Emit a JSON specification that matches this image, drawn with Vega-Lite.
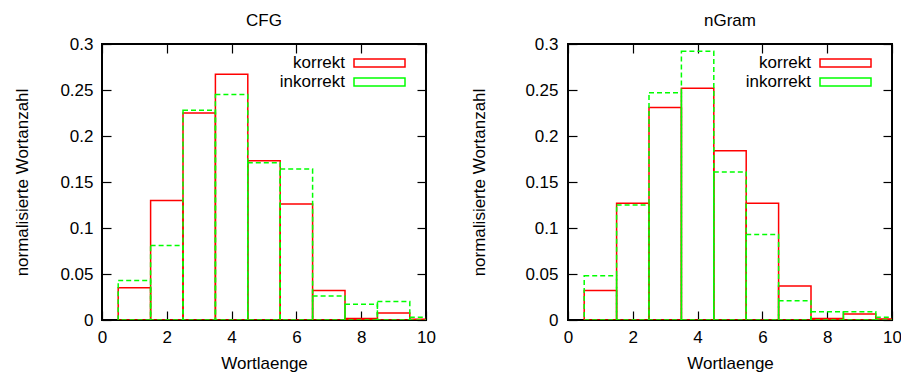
{
  "$schema": "https://vega.github.io/schema/vega-lite/v6.json",
  "padding": {"left": 12, "top": 11, "right": 5, "bottom": 5},
  "datasets": {
    "histo": [
      {"modell": "CFG", "serie": "korrekt", "von": 0.5, "bis": 1.5, "anteil": 0.035},
      {"modell": "CFG", "serie": "korrekt", "von": 1.5, "bis": 2.5, "anteil": 0.130},
      {"modell": "CFG", "serie": "korrekt", "von": 2.5, "bis": 3.5, "anteil": 0.225},
      {"modell": "CFG", "serie": "korrekt", "von": 3.5, "bis": 4.5, "anteil": 0.267},
      {"modell": "CFG", "serie": "korrekt", "von": 4.5, "bis": 5.5, "anteil": 0.173},
      {"modell": "CFG", "serie": "korrekt", "von": 5.5, "bis": 6.5, "anteil": 0.126},
      {"modell": "CFG", "serie": "korrekt", "von": 6.5, "bis": 7.5, "anteil": 0.032},
      {"modell": "CFG", "serie": "korrekt", "von": 7.5, "bis": 8.5, "anteil": 0.0015},
      {"modell": "CFG", "serie": "korrekt", "von": 8.5, "bis": 9.5, "anteil": 0.0075},
      {"modell": "CFG", "serie": "korrekt", "von": 9.5, "bis": 10.5, "anteil": 0.0008},
      {"modell": "CFG", "serie": "inkorrekt", "von": 0.5, "bis": 1.5, "anteil": 0.043},
      {"modell": "CFG", "serie": "inkorrekt", "von": 1.5, "bis": 2.5, "anteil": 0.081},
      {"modell": "CFG", "serie": "inkorrekt", "von": 2.5, "bis": 3.5, "anteil": 0.228},
      {"modell": "CFG", "serie": "inkorrekt", "von": 3.5, "bis": 4.5, "anteil": 0.245},
      {"modell": "CFG", "serie": "inkorrekt", "von": 4.5, "bis": 5.5, "anteil": 0.171},
      {"modell": "CFG", "serie": "inkorrekt", "von": 5.5, "bis": 6.5, "anteil": 0.164},
      {"modell": "CFG", "serie": "inkorrekt", "von": 6.5, "bis": 7.5, "anteil": 0.026},
      {"modell": "CFG", "serie": "inkorrekt", "von": 7.5, "bis": 8.5, "anteil": 0.017},
      {"modell": "CFG", "serie": "inkorrekt", "von": 8.5, "bis": 9.5, "anteil": 0.020},
      {"modell": "CFG", "serie": "inkorrekt", "von": 9.5, "bis": 10.5, "anteil": 0.003},
      {"modell": "nGram", "serie": "korrekt", "von": 0.5, "bis": 1.5, "anteil": 0.032},
      {"modell": "nGram", "serie": "korrekt", "von": 1.5, "bis": 2.5, "anteil": 0.127},
      {"modell": "nGram", "serie": "korrekt", "von": 2.5, "bis": 3.5, "anteil": 0.231},
      {"modell": "nGram", "serie": "korrekt", "von": 3.5, "bis": 4.5, "anteil": 0.252},
      {"modell": "nGram", "serie": "korrekt", "von": 4.5, "bis": 5.5, "anteil": 0.184},
      {"modell": "nGram", "serie": "korrekt", "von": 5.5, "bis": 6.5, "anteil": 0.127},
      {"modell": "nGram", "serie": "korrekt", "von": 6.5, "bis": 7.5, "anteil": 0.037},
      {"modell": "nGram", "serie": "korrekt", "von": 7.5, "bis": 8.5, "anteil": 0.0015},
      {"modell": "nGram", "serie": "korrekt", "von": 8.5, "bis": 9.5, "anteil": 0.0065},
      {"modell": "nGram", "serie": "korrekt", "von": 9.5, "bis": 10.5, "anteil": 0.001},
      {"modell": "nGram", "serie": "inkorrekt", "von": 0.5, "bis": 1.5, "anteil": 0.048},
      {"modell": "nGram", "serie": "inkorrekt", "von": 1.5, "bis": 2.5, "anteil": 0.125},
      {"modell": "nGram", "serie": "inkorrekt", "von": 2.5, "bis": 3.5, "anteil": 0.247},
      {"modell": "nGram", "serie": "inkorrekt", "von": 3.5, "bis": 4.5, "anteil": 0.292},
      {"modell": "nGram", "serie": "inkorrekt", "von": 4.5, "bis": 5.5, "anteil": 0.161},
      {"modell": "nGram", "serie": "inkorrekt", "von": 5.5, "bis": 6.5, "anteil": 0.093},
      {"modell": "nGram", "serie": "inkorrekt", "von": 6.5, "bis": 7.5, "anteil": 0.021},
      {"modell": "nGram", "serie": "inkorrekt", "von": 7.5, "bis": 8.5, "anteil": 0.009},
      {"modell": "nGram", "serie": "inkorrekt", "von": 8.5, "bis": 9.5, "anteil": 0.009},
      {"modell": "nGram", "serie": "inkorrekt", "von": 9.5, "bis": 10.5, "anteil": 0.003}
    ]
  },
  "data": {"name": "histo"},
  "spacing": 25,
  "hconcat": [
    {
      "title": "CFG",
      "width": 324,
      "height": 276,
      "transform": [{"filter": "datum.modell === 'CFG'"}],
      "layer": [
        {
          "transform": [{"filter": "datum.serie === 'korrekt'"}],
          "mark": {"type": "rect", "fill": null, "fillOpacity": 0, "strokeWidth": 1.5, "clip": true},
          "encoding": {
            "x": {"field": "von", "type": "quantitative", "title": "Wortlaenge", "scale": {"domain": [0, 10], "nice": false}, "axis": {"orient": "bottom", "values": [0, 2, 4, 6, 8, 10], "labelPadding": 18, "titlePadding": 10}},
            "x2": {"field": "bis"},
            "y": {"field": "anteil", "type": "quantitative", "title": "normalisierte Wortanzahl", "scale": {"domain": [0, 0.3], "nice": false}, "axis": {"orient": "left", "values": [0, 0.05, 0.1, 0.15, 0.2, 0.25, 0.3], "format": "~g", "labelPadding": 18, "titlePadding": 28}},
            "y2": {"datum": 0},
            "stroke": {"field": "serie", "type": "nominal", "scale": {"domain": ["korrekt", "inkorrekt"], "range": ["#ff0000", "#00ff00"]}, "legend": {"title": null, "orient": "none", "legendX": 171, "legendY": 10.5, "encode": {"symbols": {"update": {"stroke": {"signal": "datum.value === 'inkorrekt' ? '#00ff00' : '#ff0000'"}, "fill": {"value": "transparent"}, "strokeDash": {"signal": "datum.value === 'inkorrekt' ? [5, 3] : [1, 0]"}}}}}}
          }
        },
        {
          "transform": [{"filter": "datum.serie === 'inkorrekt'"}],
          "mark": {"type": "rect", "fill": null, "fillOpacity": 0, "strokeWidth": 1.5, "strokeDash": [5, 3], "clip": true},
          "encoding": {
            "x": {"field": "von", "type": "quantitative", "axis": null},
            "x2": {"field": "bis"},
            "y": {"field": "anteil", "type": "quantitative", "axis": null},
            "y2": {"datum": 0},
            "stroke": {"field": "serie", "type": "nominal"}
          }
        },
        {
          "mark": {"type": "rect", "opacity": 0},
          "encoding": {
            "x": {"field": "von", "type": "quantitative", "axis": {"orient": "top", "values": [0, 2, 4, 6, 8, 10], "labels": false, "title": null}},
            "x2": {"field": "bis"},
            "y": {"field": "anteil", "type": "quantitative", "axis": {"orient": "right", "values": [0, 0.05, 0.1, 0.15, 0.2, 0.25, 0.3], "labels": false, "title": null}},
            "y2": {"datum": 0}
          }
        }
      ],
      "resolve": {"axis": {"x": "independent", "y": "independent"}}
    },
    {
      "title": "nGram",
      "width": 324,
      "height": 276,
      "transform": [{"filter": "datum.modell === 'nGram'"}],
      "layer": [
        {
          "transform": [{"filter": "datum.serie === 'korrekt'"}],
          "mark": {"type": "rect", "fill": null, "fillOpacity": 0, "strokeWidth": 1.5, "clip": true},
          "encoding": {
            "x": {"field": "von", "type": "quantitative", "title": "Wortlaenge", "scale": {"domain": [0, 10], "nice": false}, "axis": {"orient": "bottom", "values": [0, 2, 4, 6, 8, 10], "labelPadding": 18, "titlePadding": 10}},
            "x2": {"field": "bis"},
            "y": {"field": "anteil", "type": "quantitative", "title": "normalisierte Wortanzahl", "scale": {"domain": [0, 0.3], "nice": false}, "axis": {"orient": "left", "values": [0, 0.05, 0.1, 0.15, 0.2, 0.25, 0.3], "format": "~g", "labelPadding": 19, "titlePadding": 36}},
            "y2": {"datum": 0},
            "stroke": {"field": "serie", "type": "nominal", "scale": {"domain": ["korrekt", "inkorrekt"], "range": ["#ff0000", "#00ff00"]}, "legend": {"title": null, "orient": "none", "legendX": 171, "legendY": 10.5, "encode": {"symbols": {"update": {"stroke": {"signal": "datum.value === 'inkorrekt' ? '#00ff00' : '#ff0000'"}, "fill": {"value": "transparent"}, "strokeDash": {"signal": "datum.value === 'inkorrekt' ? [5, 3] : [1, 0]"}}}}}}
          }
        },
        {
          "transform": [{"filter": "datum.serie === 'inkorrekt'"}],
          "mark": {"type": "rect", "fill": null, "fillOpacity": 0, "strokeWidth": 1.5, "strokeDash": [5, 3], "clip": true},
          "encoding": {
            "x": {"field": "von", "type": "quantitative", "axis": null},
            "x2": {"field": "bis"},
            "y": {"field": "anteil", "type": "quantitative", "axis": null},
            "y2": {"datum": 0},
            "stroke": {"field": "serie", "type": "nominal"}
          }
        },
        {
          "mark": {"type": "rect", "opacity": 0},
          "encoding": {
            "x": {"field": "von", "type": "quantitative", "axis": {"orient": "top", "values": [0, 2, 4, 6, 8, 10], "labels": false, "title": null}},
            "x2": {"field": "bis"},
            "y": {"field": "anteil", "type": "quantitative", "axis": {"orient": "right", "values": [0, 0.05, 0.1, 0.15, 0.2, 0.25, 0.3], "labels": false, "title": null}},
            "y2": {"datum": 0}
          }
        }
      ],
      "resolve": {"axis": {"x": "independent", "y": "independent"}}
    }
  ],
  "resolve": {"scale": {"stroke": "independent"}, "legend": {"stroke": "independent"}},
  "config": {
    "font": "Liberation Sans",
    "view": {"stroke": "#000", "strokeWidth": 2},
    "axis": {"domain": false, "grid": false, "ticks": true, "tickColor": "#000", "tickWidth": 1.2, "tickSize": -9, "labelFontSize": 17, "labelColor": "#000", "titleFontSize": 17, "titleFontWeight": "normal", "titleColor": "#000", "labelFlush": false, "labelOverlap": false, "minExtent": 0},
    "title": {"fontSize": 17, "fontWeight": "normal", "color": "#000", "anchor": "middle", "offset": 5},
    "legend": {"padding": 0, "symbolType": "M-5.1,-0.8H5.1V0.8H-5.1Z", "symbolSize": 100, "symbolStrokeWidth": 1.5, "labelFontSize": 17, "labelColor": "#000", "labelAlign": "right", "symbolOffset": 98, "labelOffset": -43, "rowPadding": 1}
  }
}
